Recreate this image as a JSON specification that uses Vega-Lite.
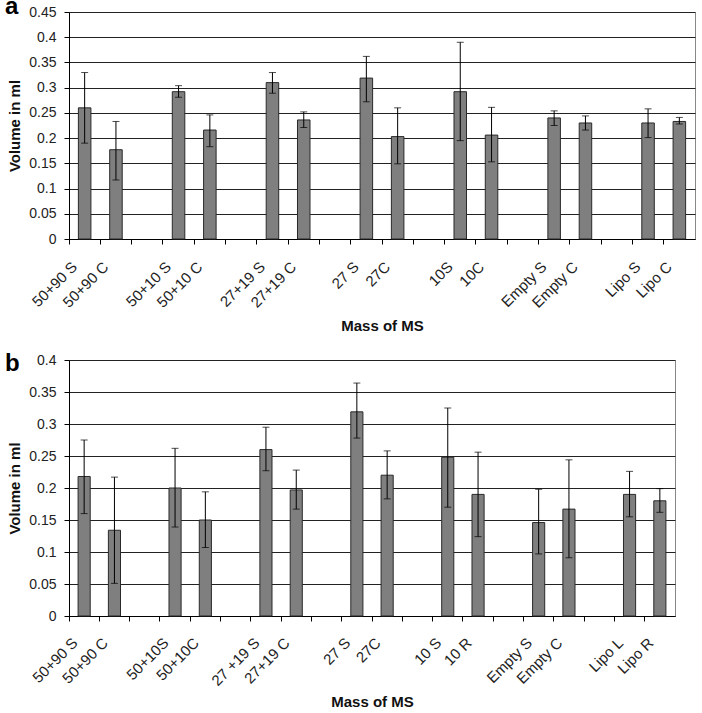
{
  "$schema": "https://vega.github.io/schema/vega-lite/v6.json",
  "padding": {"left": 4, "top": -6, "right": 2, "bottom": 2},
  "bounds": "flush",
  "spacing": 121,
  "config": {
    "font": "Liberation Sans",
    "view": {"stroke": "#888888", "strokeWidth": 1},
    "axis": {
      "domainColor": "#000000",
      "tickColor": "#000000",
      "labelColor": "#222222",
      "labelFont": "Liberation Sans",
      "labelFontSize": 14,
      "titleFont": "Liberation Sans",
      "titleFontSize": 15,
      "titleFontWeight": "bold",
      "titleColor": "#111111"
    },
    "title": {"font": "Liberation Sans", "fontSize": 24, "fontWeight": "bold", "color": "#000000"}
  },
  "vconcat": [
    {
      "width": 626,
      "height": 227,
      "title": {"text": "a", "anchor": "start", "frame": "group", "baseline": "alphabetic", "dx": -64, "dy": 37},
      "data": {"values": [
        {"name": "50+90 S", "v": 0.26, "lo": 0.19, "hi": 0.33},
        {"name": "50+90 C", "v": 0.177, "lo": 0.117, "hi": 0.233},
        {"name": "50+10 S", "v": 0.292, "lo": 0.281, "hi": 0.304},
        {"name": "50+10 C", "v": 0.216, "lo": 0.183, "hi": 0.246},
        {"name": "27+19 S", "v": 0.31, "lo": 0.289, "hi": 0.33},
        {"name": "27+19 C", "v": 0.236, "lo": 0.221, "hi": 0.252},
        {"name": "27 S", "v": 0.319, "lo": 0.272, "hi": 0.362},
        {"name": "27C", "v": 0.203, "lo": 0.149, "hi": 0.26},
        {"name": "10S", "v": 0.292, "lo": 0.195, "hi": 0.39},
        {"name": "10C", "v": 0.206, "lo": 0.153, "hi": 0.261},
        {"name": "Empty S", "v": 0.24, "lo": 0.225, "hi": 0.254},
        {"name": "Empty C", "v": 0.23, "lo": 0.216, "hi": 0.244},
        {"name": "Lipo S", "v": 0.23, "lo": 0.201, "hi": 0.258},
        {"name": "Lipo C", "v": 0.233, "lo": 0.228, "hi": 0.241}
      ]},
      "encoding": {
        "x": {
          "field": "name", "type": "nominal",
          "scale": {"domain": ["50+90 S", "50+90 C", " ", "50+10 S", "50+10 C", "  ", "27+19 S", "27+19 C", "   ", "27 S", "27C", "    ", "10S", "10C", "     ", "Empty S", "Empty C", "      ", "Lipo S", "Lipo C"], "paddingInner": 0, "paddingOuter": 0},
          "axis": {"title": "Mass of MS", "titleFontSize": 15, "titlePadding": 8, "bandPosition": 0, "tickSize": 5, "labelAngle": -45, "labelAlign": "right", "labelBaseline": "middle", "labelFontSize": 15, "labelOffset": -10, "labelPadding": 20, "labelOverlap": false, "labelBound": false, "grid": false}
        }
      },
      "layer": [
        {
          "mark": {"type": "bar", "width": {"band": 0.4}, "fill": "#7f7f7f", "stroke": "#2a2a2a", "strokeWidth": 1},
          "encoding": {
            "y": {"field": "v", "type": "quantitative", "scale": {"domain": [0, 0.45]},
              "axis": {"title": "Volume in ml", "values": [0, 0.05, 0.1, 0.15, 0.2, 0.25, 0.3, 0.35, 0.4, 0.45], "tickCount": 10, "format": "~g", "labelOverlap": false, "grid": true, "gridColor": "#222222", "gridWidth": 1, "tickSize": 5, "labelPadding": 8, "titlePadding": 6}}
          }
        },
        {
          "mark": {"type": "rule", "color": "#000000", "strokeWidth": 1},
          "encoding": {"y": {"field": "lo", "type": "quantitative"}, "y2": {"field": "hi"}}
        },
        {
          "mark": {"type": "tick", "color": "#000000", "size": 7, "thickness": 1},
          "encoding": {"y": {"field": "lo", "type": "quantitative"}}
        },
        {
          "mark": {"type": "tick", "color": "#000000", "size": 7, "thickness": 1},
          "encoding": {"y": {"field": "hi", "type": "quantitative"}}
        }
      ]
    },
    {
      "width": 606,
      "height": 256,
      "title": {"text": "b", "anchor": "start", "frame": "group", "baseline": "alphabetic", "dx": -64, "dy": 46},
      "data": {"values": [
        {"name": "50+90 S", "v": 0.218, "lo": 0.16, "hi": 0.275},
        {"name": "50+90 C", "v": 0.134, "lo": 0.051, "hi": 0.217},
        {"name": "50+10S", "v": 0.2, "lo": 0.139, "hi": 0.262},
        {"name": "50+10C", "v": 0.15, "lo": 0.107, "hi": 0.194},
        {"name": "27 +19 S", "v": 0.26, "lo": 0.227, "hi": 0.295},
        {"name": "27+19 C", "v": 0.197, "lo": 0.167, "hi": 0.228},
        {"name": "27 S", "v": 0.319, "lo": 0.278, "hi": 0.364},
        {"name": "27C", "v": 0.22, "lo": 0.183, "hi": 0.258},
        {"name": "10 S", "v": 0.248, "lo": 0.17, "hi": 0.325},
        {"name": "10 R", "v": 0.19, "lo": 0.124, "hi": 0.256},
        {"name": "Empty S", "v": 0.146, "lo": 0.097, "hi": 0.198},
        {"name": "Empty C", "v": 0.167, "lo": 0.091, "hi": 0.244},
        {"name": "Lipo L", "v": 0.19, "lo": 0.155, "hi": 0.226},
        {"name": "Lipo R", "v": 0.18, "lo": 0.162, "hi": 0.199}
      ]},
      "encoding": {
        "x": {
          "field": "name", "type": "nominal",
          "scale": {"domain": ["50+90 S", "50+90 C", " ", "50+10S", "50+10C", "  ", "27 +19 S", "27+19 C", "   ", "27 S", "27C", "    ", "10 S", "10 R", "     ", "Empty S", "Empty C", "      ", "Lipo L", "Lipo R"], "paddingInner": 0, "paddingOuter": 0},
          "axis": {"title": "Mass of MS", "titleFontSize": 15, "titlePadding": 6, "bandPosition": 0, "tickSize": 5, "labelAngle": -45, "labelAlign": "right", "labelBaseline": "middle", "labelFontSize": 15, "labelOffset": -9, "labelPadding": 19, "labelOverlap": false, "labelBound": false, "grid": false}
        }
      },
      "layer": [
        {
          "mark": {"type": "bar", "width": {"band": 0.4}, "fill": "#7f7f7f", "stroke": "#2a2a2a", "strokeWidth": 1},
          "encoding": {
            "y": {"field": "v", "type": "quantitative", "scale": {"domain": [0, 0.4]},
              "axis": {"title": "Volume in ml", "values": [0, 0.05, 0.1, 0.15, 0.2, 0.25, 0.3, 0.35, 0.4], "tickCount": 9, "format": "~g", "labelOverlap": false, "grid": true, "gridColor": "#222222", "gridWidth": 1, "tickSize": 5, "labelPadding": 8, "titlePadding": 6}}
          }
        },
        {
          "mark": {"type": "rule", "color": "#000000", "strokeWidth": 1},
          "encoding": {"y": {"field": "lo", "type": "quantitative"}, "y2": {"field": "hi"}}
        },
        {
          "mark": {"type": "tick", "color": "#000000", "size": 7, "thickness": 1},
          "encoding": {"y": {"field": "lo", "type": "quantitative"}}
        },
        {
          "mark": {"type": "tick", "color": "#000000", "size": 7, "thickness": 1},
          "encoding": {"y": {"field": "hi", "type": "quantitative"}}
        }
      ]
    }
  ]
}
